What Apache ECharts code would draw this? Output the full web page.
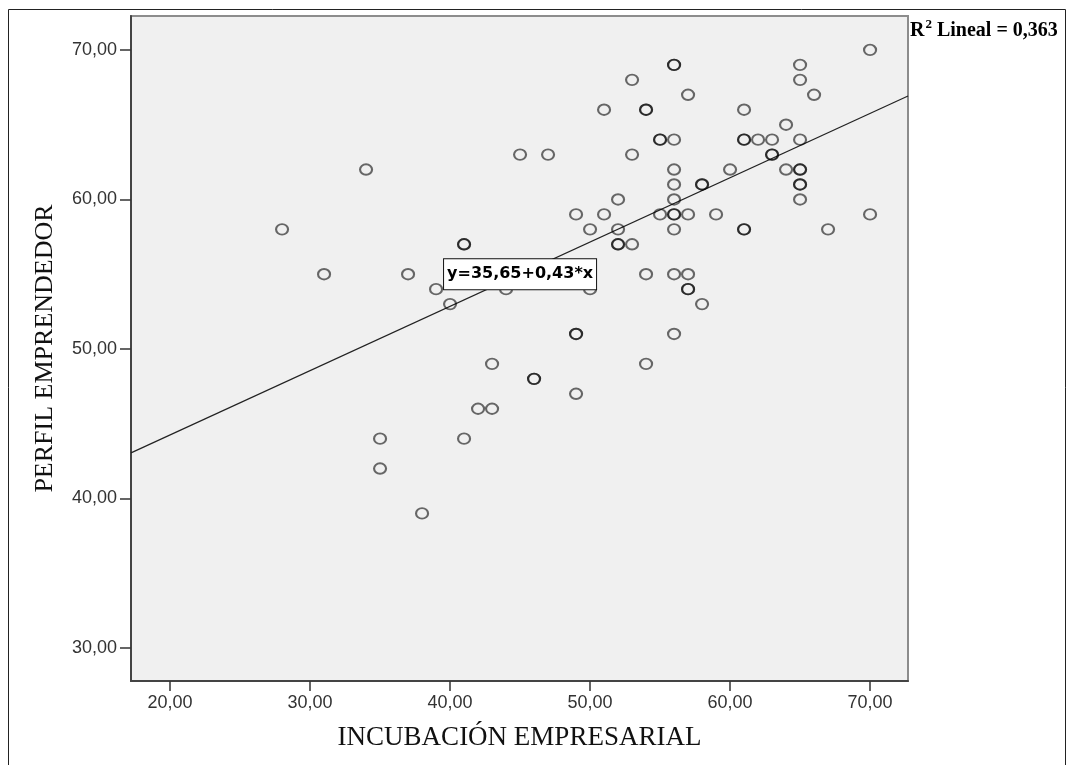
<!DOCTYPE html>
<html>
<head>
<meta charset="utf-8">
<script src="https://cdn.jsdelivr.net/npm/echarts@6/dist/echarts.min.js"></script>
<style>
  html, body { margin: 0; padding: 0; background: #ffffff; }
  #chart { width: 1074px; height: 765px; }
</style>
</head>
<body>
<div id="chart"></div>
<script>
// Scatter of INCUBACIÓN EMPRESARIAL (x) against PERFIL EMPRENDEDOR (y);
// repeated pairs are listed once per case so overlapping circles look darker.
const incubacion = [
  70, 56, 56, 65, 53, 65, 57, 66, 51, 54, 54, 61, 64,
  55, 55, 56, 61, 61, 62, 63, 65,
  45, 47, 53, 63, 63,
  34, 56, 60, 64, 65, 65,
  56, 58, 58, 65, 65,
  52, 56, 65,
  49, 51, 55, 56, 56, 57, 59, 70,
  28, 50, 52, 56, 61, 61, 67,
  41, 41, 52, 52, 53,
  31, 37, 54, 56, 57,
  39, 44, 50, 57, 57,
  40, 58,
  49, 49, 56,
  43, 54,
  46, 46, 49,
  42, 43,
  35, 41,
  35,
  38
];
const perfil = [
  70, 69, 69, 69, 68, 68, 67, 67, 66, 66, 66, 66, 65,
  64, 64, 64, 64, 64, 64, 64, 64,
  63, 63, 63, 63, 63,
  62, 62, 62, 62, 62, 62,
  61, 61, 61, 61, 61,
  60, 60, 60,
  59, 59, 59, 59, 59, 59, 59, 59,
  58, 58, 58, 58, 58, 58, 58,
  57, 57, 57, 57, 57,
  55, 55, 55, 55, 55,
  54, 54, 54, 54, 54,
  53, 53,
  51, 51, 51,
  49, 49,
  48, 48, 47,
  46, 46,
  44, 44,
  42,
  39
];

// Fitted linear model shown in the label
const intercept = 35.65;
const slope = 0.43;
const rSquared = '0,363';

// Axis extents and tick values
const xRange = [17.21, 72.71];
const yRange = [27.79, 72.27];
const xTicks = [20, 30, 40, 50, 60, 70];
const yTicks = [30, 40, 50, 60, 70];

const xTitle = 'INCUBACIÓN EMPRESARIAL';
const yTitle = 'PERFIL EMPRENDEDOR';

const points = incubacion.map((x, i) => [x, perfil[i]]);
const fitLine = xRange.map(x => [x, intercept + slope * x]);
const fmt = v => v.toFixed(2).replace('.', ',');
const fmtCoef = v => String(v).replace('.', ',');

const chart = echarts.init(document.getElementById('chart'), null, { renderer: 'canvas' });

chart.setOption({
  animation: false,
  backgroundColor: '#ffffff',
  grid: {
    left: 131, top: 16, right: 166, bottom: 84,
    show: true,
    backgroundColor: '#f0f0f0',
    borderColor: '#8c8c8c',
    borderWidth: 2
  },
  xAxis: {
    type: 'value',
    min: xRange[0], max: xRange[1],
    name: xTitle,
    nameLocation: 'middle',
    nameGap: 43,
    nameTextStyle: { fontFamily: 'Liberation Serif', fontSize: 27, color: '#111' },
    axisLine: { show: true, onZero: false, lineStyle: { color: '#444', width: 2 } },
    axisTick: { show: true, inside: false, length: 10, customValues: xTicks, lineStyle: { color: '#333', width: 1.5 } },
    axisLabel: { customValues: xTicks, formatter: fmt, margin: 13, fontFamily: 'Liberation Sans', fontSize: 18, color: '#333' },
    splitLine: { show: false }
  },
  yAxis: {
    type: 'value',
    min: yRange[0], max: yRange[1],
    name: yTitle,
    nameLocation: 'middle',
    nameRotate: 90,
    nameGap: 73,
    nameTextStyle: { fontFamily: 'Liberation Serif', fontSize: 26, color: '#111' },
    axisLine: { show: true, onZero: false, lineStyle: { color: '#444', width: 2 } },
    axisTick: { show: true, inside: false, length: 11, customValues: yTicks, lineStyle: { color: '#333', width: 1.5 } },
    axisLabel: { customValues: yTicks, formatter: fmt, margin: 14, fontFamily: 'Liberation Sans', fontSize: 18, color: '#333' },
    splitLine: { show: false }
  },
  graphic: [
    {
      type: 'rect',
      z: -10,
      shape: { x: 8.5, y: 9.5, width: 1057, height: 780 },
      style: { fill: 'none', stroke: '#222', lineWidth: 1 }
    },
    {
      type: 'text',
      left: 910,
      top: 18,
      style: {
        text: '{r|R}{s|2}{r| Lineal = ' + rSquared + '}',
        rich: {
          r: { fontFamily: 'Liberation Serif', fontWeight: 'bold', fontSize: 20, fill: '#000' },
          s: { fontFamily: 'Liberation Serif', fontWeight: 'bold', fontSize: 13, fill: '#000', padding: [0, 0, 12, 1] }
        }
      }
    }
  ],
  series: [
    {
      type: 'line',
      data: fitLine,
      symbol: 'none',
      silent: true,
      z: 3,
      lineStyle: { color: '#222', width: 1.2 },
      markPoint: {
        symbol: 'rect',
        symbolSize: 0,
        silent: true,
        z: 10,
        data: [{ coord: [45, 55] }],
        label: {
          show: true,
          position: 'inside',
          formatter: 'y=' + fmtCoef(intercept) + '+' + fmtCoef(slope) + '*x',
          fontFamily: 'DejaVu Sans',
          fontWeight: 'bold',
          fontSize: 16,
          color: '#000',
          backgroundColor: '#ffffff',
          borderColor: '#111',
          borderWidth: 1,
          padding: [8, 3, 6, 3]
        }
      }
    },
    {
      type: 'scatter',
      data: points,
      symbol: 'circle',
      symbolSize: [12, 10.5],
      z: 4,
      itemStyle: {
        color: 'rgba(0,0,0,0)',
        borderColor: 'rgba(0,0,0,0.72)',
        borderWidth: 2
      }
    }
  ]
});
</script>
</body>
</html>
